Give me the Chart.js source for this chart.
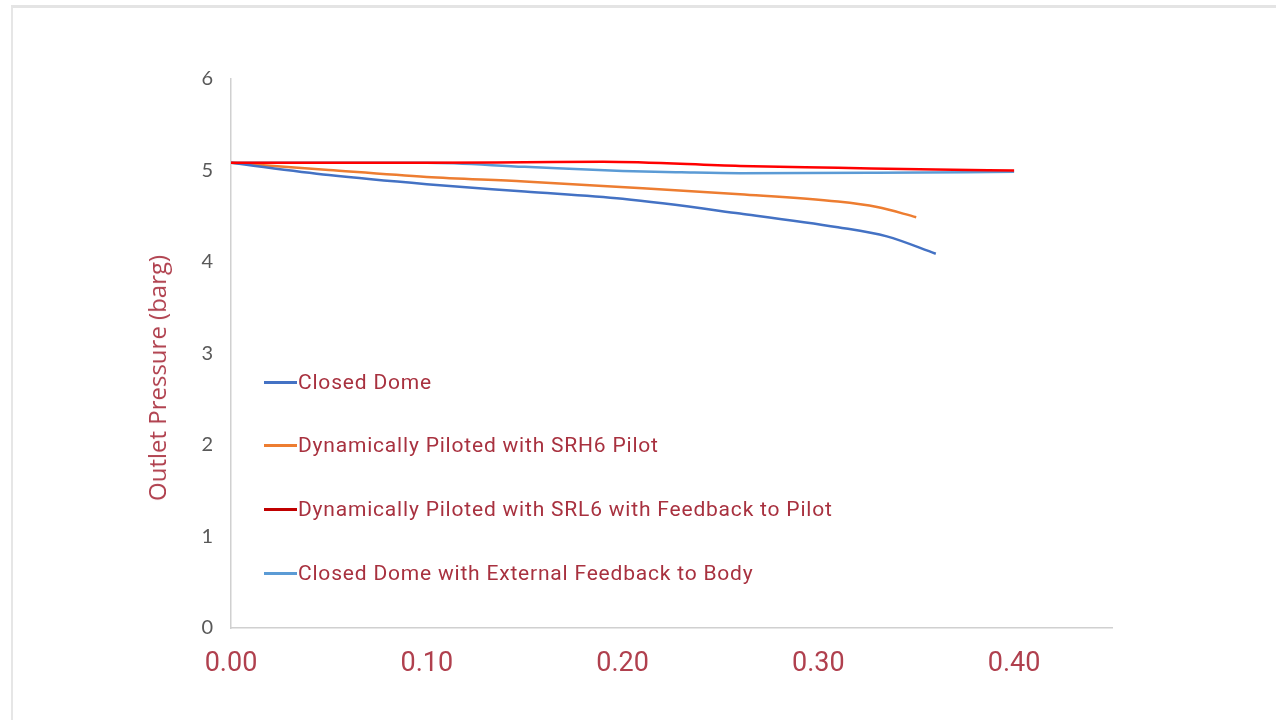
<!DOCTYPE html>
<html>
<head>
<meta charset="utf-8">
<script src="https://cdn.jsdelivr.net/npm/chart.js@4.4.1/dist/chart.umd.min.js"></script>
<style>
  html, body { margin:0; padding:0; background:#fff; }
  #wrap { position:relative; width:1276px; height:720px; overflow:hidden; }
  #frame { position:absolute; left:11px; top:5px; width:1300px; height:760px;
           border-left:2px solid #e6e6e6; border-top:3px solid #e4e4e4; }
  canvas { position:absolute; left:0; top:0; }
  #legend { position:absolute; left:264px; top:0; font-family:'Roboto','Lato',sans-serif;
            font-size:21px; letter-spacing:0.8px; color:#A8313F; }
  .item { position:absolute; left:0; white-space:nowrap; display:flex; align-items:center; height:26px; }
  .sw { width:33px; height:3px; margin-right:1px; }
  #ytitle { position:absolute; left:157px; top:378px; transform:translate(-50%,-50%) rotate(-90deg);
            white-space:nowrap; font-family:'Open Sans','Lato',sans-serif; font-size:24px; color:#B0404E; line-height:1; }
</style>
</head>
<body>
<div id="wrap">
  <div id="frame"></div>
  <canvas id="c" width="1276" height="720"></canvas>
  <div id="legend"></div>
  <div id="ytitle"></div>
</div>
<script>
const seriesNames = [
  'Closed Dome',
  'Dynamically Piloted with SRH6 Pilot',
  'Dynamically Piloted with SRL6 with Feedback to Pilot',
  'Closed Dome with External Feedback to Body'
];
const seriesColors = ['#4472C4', '#ED7D31', '#FF0000', '#5B9BD5'];
const legendColors = ['#4472C4', '#ED7D31', '#C00000', '#5B9BD5'];

const closedDomeX = [0.00, 0.05, 0.10, 0.15, 0.20, 0.26, 0.31, 0.335, 0.36];
const closedDomeY = [5.085, 4.95, 4.85, 4.77, 4.69, 4.53, 4.38, 4.28, 4.09];

const srh6X = [0.00, 0.05, 0.10, 0.15, 0.19, 0.26, 0.31, 0.33, 0.35];
const srh6Y = [5.085, 5.005, 4.93, 4.88, 4.83, 4.74, 4.66, 4.60, 4.49];

const srl6X = [0.00, 0.10, 0.15, 0.19, 0.26, 0.31, 0.36, 0.40];
const srl6Y = [5.085, 5.085, 5.09, 5.095, 5.05, 5.03, 5.01, 5.00];

const extFbX = [0.00, 0.10, 0.15, 0.20, 0.23, 0.26, 0.33, 0.40];
const extFbY = [5.085, 5.085, 5.04, 4.995, 4.98, 4.97, 4.975, 4.985];

const xTicks = [0.00, 0.10, 0.20, 0.30, 0.40];
const yTicks = [0, 1, 2, 3, 4, 5, 6];
const yTitle = 'Outlet Pressure (barg)';

const xs = [closedDomeX, srh6X, srl6X, extFbX];
const ys = [closedDomeY, srh6Y, srl6Y, extFbY];

const datasets = seriesNames.map((n, i) => ({
  label: n,
  data: xs[i].map((x, j) => ({ x: x, y: ys[i][j] })),
  borderColor: seriesColors[i],
  backgroundColor: seriesColors[i],
  borderWidth: 2.5,
  pointRadius: 0,
  cubicInterpolationMode: 'monotone',
  fill: false
}));
datasets[2].order = 1; datasets[3].order = 2; datasets[0].order = 3; datasets[1].order = 3;

new Chart(document.getElementById('c'), {
  type: 'line',
  data: { datasets: datasets },
  options: {
    responsive: false,
    animation: false,
    layout: { padding: { left: 144, top: 79, right: 164, bottom: 0 } },
    plugins: { legend: { display: false }, tooltip: { enabled: false } },
    scales: {
      x: {
        type: 'linear', min: 0, max: 0.45,
        afterBuildTicks: (s) => { s.ticks = xTicks.map(v => ({ value: v })); },
        afterFit: (s) => { s.height = 92; },
        grid: { display: false, drawTicks: false },
        border: { display: true, color: '#d0d0d0', width: 1.5 },
        ticks: {
          padding: 20,
          color: '#B0404E',
          font: { family: "'Roboto','Lato',sans-serif", size: 27 },
          callback: (v) => Number(v).toFixed(2),
          maxRotation: 0
        }
      },
      y: {
        type: 'linear', min: 0, max: 6,
        afterBuildTicks: (s) => { s.ticks = yTicks.map(v => ({ value: v })); },
        afterFit: (s) => { s.width = 87; },
        grid: { display: false, drawTicks: false },
        border: { display: true, color: '#d0d0d0', width: 1.5 },
        title: { display: false, text: yTitle },
        ticks: {
          padding: 18,
          color: '#595959',
          font: { family: "'Lato','Open Sans',sans-serif", size: 20 }
        }
      }
    }
  }
});

document.getElementById('ytitle').textContent = yTitle;

const legendTops = [382, 445, 509, 573];
const lg = document.getElementById('legend');
seriesNames.forEach((n, i) => {
  const d = document.createElement('div');
  d.className = 'item';
  d.style.top = (legendTops[i] - 13) + 'px';
  const sw = document.createElement('span');
  sw.className = 'sw';
  sw.style.background = legendColors[i];
  const t = document.createElement('span');
  t.textContent = n;
  d.appendChild(sw); d.appendChild(t);
  lg.appendChild(d);
});
</script>
</body>
</html>
